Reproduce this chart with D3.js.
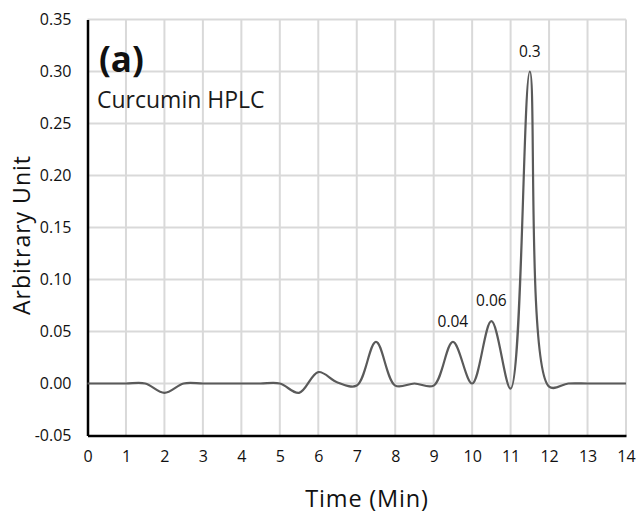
<!DOCTYPE html>
<html><head><meta charset="utf-8">
<script src="https://cdn.jsdelivr.net/npm/d3@7"></script>
<style>body{margin:0;background:#fff}svg{display:block}text{font-family:"Open Sans",sans-serif}</style>
</head><body><svg id="c" width="639" height="515"></svg>
<script>
const times = [0,0.5,1,1.5,2,2.5,3,3.5,4,4.5,5,5.5,6,6.5,7,7.5,8,8.5,9,9.5,10,10.5,11,11.5,12,12.5,13,13.5,14];
const signal = [0,0,0,0,-0.009,0,0,0,0,0,0,-0.009,0.011,0.001,-0.002,0.04,-0.002,0,-0.002,0.04,0,0.06,-0.005,0.3,-0.003,0,0,0,0];
const xTicks = [0,1,2,3,4,5,6,7,8,9,10,11,12,13,14];
const yTicks = [-0.05,0,0.05,0.10,0.15,0.20,0.25,0.30,0.35];
const peakLabels = [{t:9.5,v:0.04,text:"0.04"},{t:10.5,v:0.06,text:"0.06"},{t:11.5,v:0.3,text:"0.3"}];

const svg = d3.select("#c");
const L=87.5,R=626,T=19.5,B=435.5;
const x = d3.scaleLinear().domain([0,14]).range([L,R]);
const y = d3.scaleLinear().domain([-0.05,0.35]).range([B,T]);

// grid
svg.append("g").selectAll("line").data(xTicks.slice(1)).join("line")
  .attr("x1",d=>x(d)).attr("x2",d=>x(d)).attr("y1",T).attr("y2",B)
  .attr("stroke","#d9d9d9").attr("stroke-width",2);
svg.append("g").selectAll("line").data(yTicks.slice(1)).join("line")
  .attr("x1",L).attr("x2",R).attr("y1",d=>y(d)).attr("y2",d=>y(d))
  .attr("stroke","#d9d9d9").attr("stroke-width",2);

// axes
const f2 = d3.format(".2f");
const xa = svg.append("g").attr("transform",`translate(0,${B})`)
  .call(d3.axisBottom(x).tickValues(xTicks).tickSize(0).tickPadding(15).tickFormat(d3.format("d")));
xa.select(".domain").attr("stroke","#000").attr("stroke-width",2.5);
xa.selectAll("text").attr("font-size",16).attr("fill","#111");
const ya = svg.append("g").attr("transform",`translate(${L},0)`)
  .call(d3.axisLeft(y).tickValues(yTicks).tickSize(0).tickPadding(16).tickFormat(d=>f2(d).replace("\u2212","-")));
ya.select(".domain").attr("stroke","#000").attr("stroke-width",2.5);
ya.selectAll("text").attr("font-size",16).attr("fill","#111");

// curve
const line = d3.line().x((d,i)=>x(times[i])).y(d=>y(d)).curve(d3.curveCatmullRom.alpha(0.5));
svg.append("path").datum(signal).attr("d",line).attr("fill","none")
  .attr("stroke","#5a5a5a").attr("stroke-width",2.2);

// peak labels
svg.append("g").selectAll("text").data(peakLabels).join("text")
  .attr("x",d=>x(d.t)).attr("y",d=>y(d.v)-15).attr("text-anchor","middle")
  .attr("font-size",15.5).attr("fill","#111").text(d=>d.text);

// titles
svg.append("text").attr("x",99).attr("y",72).attr("font-size",35).attr("font-weight","bold").attr("fill","#111").text("(a)");
svg.append("text").attr("x",97).attr("y",108).attr("font-size",23).attr("fill","#1a1a1a").text("Curcumin HPLC");
svg.append("text").attr("transform","translate(30,235) rotate(-90)").attr("text-anchor","middle")
  .attr("font-size",23).attr("letter-spacing",1).attr("fill","#111").text("Arbitrary Unit");
svg.append("text").attr("x",367).attr("y",507).attr("text-anchor","middle")
  .attr("font-size",23.5).attr("letter-spacing",0.8).attr("fill","#111").text("Time (Min)");
</script></body></html>
